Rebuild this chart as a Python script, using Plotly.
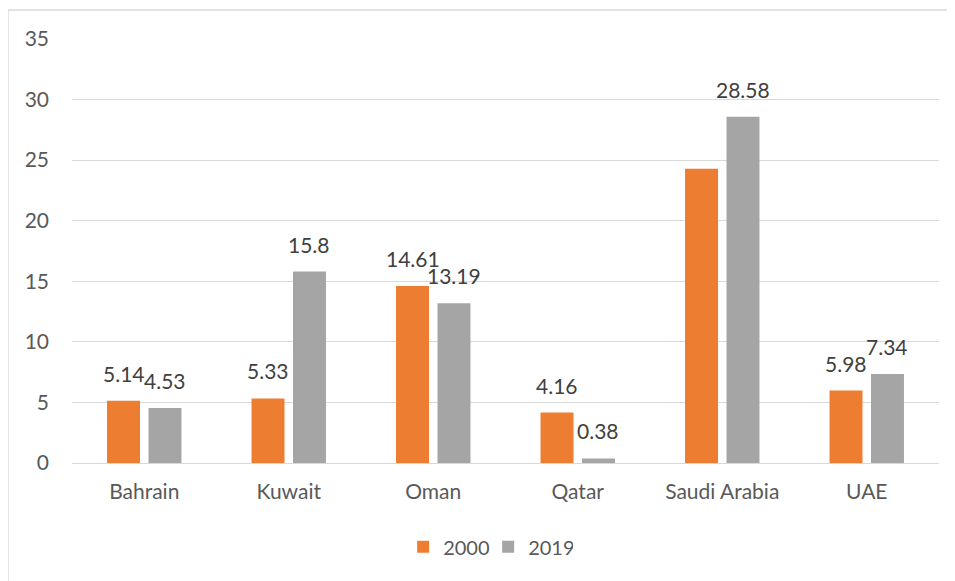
import plotly.graph_objects as go

categories = ["Bahrain", "Kuwait", "Oman", "Qatar", "Saudi Arabia", "UAE"]
values_2000 = [5.14, 5.33, 14.61, 4.16, 24.28, 5.98]
values_2019 = [4.53, 15.8, 13.19, 0.38, 28.58, 7.34]
labels_2000 = ["5.14", "5.33", "14.61", "4.16", "", "5.98"]
labels_2019 = ["4.53", "15.8", "13.19", "0.38", "28.58", "7.34"]
y_ticks = [0, 5, 10, 15, 20, 25, 30, 35]

# page body has an 8px margin, so the figure sits at (8, 8)
W, H = 947, 573
L, R, T, B = 64, 16, 31, 118
pw, ph = W - L - R, H - T - B

FONT = "Lato, Open Sans, Liberation Sans, sans-serif"
ORANGE, GRAY = "#ED7D31", "#A5A5A5"

fig = go.Figure()
fig.add_trace(go.Bar(name="2000", x=categories, y=values_2000, marker_color=ORANGE,
                     marker_line_width=0))
fig.add_trace(go.Bar(name="2019", x=categories, y=values_2019, marker_color=GRAY,
                     marker_line_width=0))

# data labels (outside end), placed via annotations on data coordinates
slot_shift = pw / len(categories) * (1 - 0.426) / 4
for cat, v, t in zip(categories, values_2000, labels_2000):
    if t:
        fig.add_annotation(x=cat, y=v, text=t, xref="x", yref="y", showarrow=False,
                           xanchor="center", yanchor="bottom", xshift=-slot_shift, yshift=13,
                           font=dict(family=FONT, size=21, color="#404040"))
for cat, v, t in zip(categories, values_2019, labels_2019):
    if t:
        fig.add_annotation(x=cat, y=v, text=t, xref="x", yref="y", showarrow=False,
                           xanchor="center", yanchor="bottom", xshift=slot_shift, yshift=13,
                           font=dict(family=FONT, size=21, color="#404040"))

fig.update_layout(
    width=W, height=H,
    margin=dict(l=L, r=R, t=T, b=B, autoexpand=False),
    paper_bgcolor="white", plot_bgcolor="white",
    font=dict(family=FONT, color="#595959", size=21),
    barmode="group", bargap=0.426, bargroupgap=0.205,
    showlegend=True,
    legend=dict(orientation="h", x=0.48, xanchor="center", y=-0.1975, yanchor="middle",
                font=dict(family=FONT, size=20, color="#595959"), traceorder="normal",
                entrywidth=40, entrywidthmode="pixels"),
    xaxis=dict(showgrid=False, showline=True, linecolor="#D9D9D9", linewidth=1,
               ticks="", tickfont=dict(family=FONT, size=21, color="#595959"),
               ticklabelstandoff=10),
    yaxis=dict(range=[0, 35], tickvals=y_ticks, showgrid=True, gridcolor="#D9D9D9",
               gridwidth=1, zeroline=False, ticks="",
               tickfont=dict(family=FONT, size=21, color="#595959"),
               ticklabelstandoff=22),
)
fig.add_shape(type="rect", xref="paper", yref="paper",
              x0=(0 - L) / pw, x1=(W + 20 - L) / pw,
              y0=(H - (H + 20) - B) / ph, y1=(H - 2 - B) / ph,
              line=dict(color="#D9D9D9", width=1.3), fillcolor="rgba(0,0,0,0)", layer="below")

fig.write_html("out.html")
